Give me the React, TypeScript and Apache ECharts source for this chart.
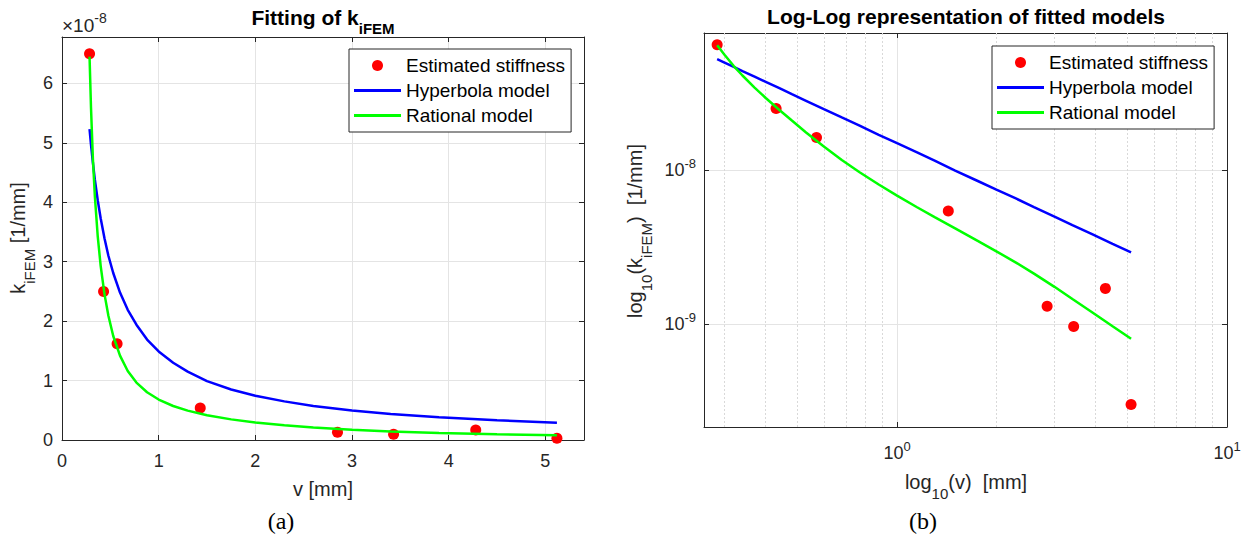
import React, { useEffect, useRef } from "react";
import * as echarts from "echarts";

// ---- data ----
const displacement = [0.285, 0.43, 0.57, 1.43, 2.85, 3.43, 4.28, 5.12]; // v [mm]
const stiffness = [6.5e-8, 2.5e-8, 1.62e-8, 5.4e-9, 1.3e-9, 9.6e-10, 1.7e-9, 3.0e-10]; // k_iFEM [1/mm]

// fitted model curves, sampled off the figure
const fitV = [0.285, 0.3, 0.32, 0.34, 0.37, 0.4, 0.44, 0.48, 0.53, 0.6, 0.68, 0.77, 0.88, 1.0, 1.15, 1.3, 1.5, 1.75, 2.0, 2.3, 2.6, 3.0, 3.4, 3.9, 4.5, 5.12];
const hyperbolaK = [5.23e-8, 4.97e-8, 4.66e-8, 4.38e-8, 4.03e-8, 3.73e-8, 3.39e-8, 3.1e-8, 2.81e-8, 2.48e-8, 2.19e-8, 1.94e-8, 1.69e-8, 1.49e-8, 1.3e-8, 1.15e-8, 9.9e-9, 8.5e-9, 7.45e-9, 6.5e-9, 5.73e-9, 4.97e-9, 4.38e-9, 3.82e-9, 3.31e-9, 2.91e-9];
const rationalK = [6.45e-8, 5.59e-8, 4.72e-8, 4.1e-8, 3.42e-8, 2.93e-8, 2.45e-8, 2.09e-8, 1.75e-8, 1.42e-8, 1.16e-8, 9.66e-9, 8.04e-9, 6.81e-9, 5.72e-9, 4.94e-9, 4.17e-9, 3.47e-9, 2.96e-9, 2.49e-9, 2.12e-9, 1.74e-9, 1.45e-9, 1.19e-9, 9.65e-10, 8.0e-10];

// axis ranges / ticks
const linXMax = 5.4;
const linYMax = 6.78e-8;
const linYStep = 1e-8;
const logXMin = 0.26;
const logXMax = 10;
const logYMin = 2.14e-10;
const logYMax = 7.74e-8;
const minorX = [0.3, 0.4, 0.5, 0.6, 0.7, 0.8, 0.9, 2, 3, 4, 5, 6, 7, 8, 9];
const minorY = [3e-10, 4e-10, 5e-10, 6e-10, 7e-10, 8e-10, 9e-10, 2e-9, 3e-9, 4e-9, 5e-9, 6e-9, 7e-9, 8e-9, 9e-9, 2e-8, 3e-8, 4e-8, 5e-8, 6e-8, 7e-8];

const seriesNames = ["Estimated stiffness", "Hyperbola model", "Rational model"];

const FONT = '"Liberation Sans", Arial, Helvetica, sans-serif';
const SERIF = '"Liberation Serif", "Times New Roman", serif';
const TXT = "#262626";
const GRID = "#e4e4e4";

function pairs(xs: number[], ys: number[]) {
  return xs.map((x, i) => [x, ys[i]]);
}

function baseAxis(extra: any) {
  return {
    axisLine: { show: true, onZero: false, lineStyle: { color: TXT, width: 1 } },
    axisTick: { show: true, inside: true, length: 5, lineStyle: { color: TXT } },
    axisLabel: { show: false },
    splitLine: { show: false },
    ...extra,
  };
}

const tickLabel = { color: TXT, fontSize: 18, fontFamily: FONT };
const powRich = {
  b: { fontSize: 18, fontFamily: FONT, color: TXT, lineHeight: 26 },
  s: { fontSize: 13, fontFamily: FONT, color: TXT, verticalAlign: "top" },
};
const powFormatter = (v: number) => `{b|10}{s|${Math.round(Math.log10(v))}}`;

function subRich(main: number, sub: number, weight = "normal", fill = TXT) {
  return {
    m: { fontSize: main, fontWeight: weight, fontFamily: FONT, fill, lineHeight: 38 },
    s: { fontSize: sub, fontWeight: weight, fontFamily: FONT, fill, verticalAlign: "bottom" },
  };
}

export default function App() {
  const ref = useRef<HTMLDivElement>(null);
  useEffect(() => {
    if (!ref.current) return;
    const chart = echarts.init(ref.current, undefined, { renderer: "svg" });
    const lineCommon = { type: "line", symbol: "none", smooth: false, z: 4 };
    const dots = { type: "scatter", symbolSize: 11, itemStyle: { color: "#ff0000", opacity: 1 }, z: 3 };
    const option: any = {
      animation: false,
      backgroundColor: "#ffffff",
      grid: [
        { left: 62, top: 37, width: 522, height: 403 },
        { left: 704, top: 33, width: 523, height: 394 },
      ],
      xAxis: [
        baseAxis({
          gridIndex: 0, type: "value", min: 0, max: linXMax, interval: 1, position: "bottom",
          axisLabel: { ...tickLabel, margin: 12, showMaxLabel: false },
          splitLine: { show: true, lineStyle: { color: GRID } },
        }),
        baseAxis({ gridIndex: 0, type: "value", min: 0, max: linXMax, interval: 1, position: "top" }),
        baseAxis({
          gridIndex: 1, type: "log", logBase: 10, min: logXMin, max: logXMax, position: "bottom",
          axisLabel: { show: true, formatter: powFormatter, rich: powRich, margin: 13, showMinLabel: false },
          splitLine: { show: true, lineStyle: { color: GRID } },
        }),
        baseAxis({ gridIndex: 1, type: "log", logBase: 10, min: logXMin, max: logXMax, position: "top" }),
      ],
      yAxis: [
        baseAxis({
          gridIndex: 0, type: "value", min: 0, max: linYMax, interval: linYStep, position: "left",
          axisLabel: { ...tickLabel, margin: 9, showMaxLabel: false, formatter: (v: number) => String(Math.round(v / linYStep)) },
          splitLine: { show: true, lineStyle: { color: GRID } },
        }),
        baseAxis({ gridIndex: 0, type: "value", min: 0, max: linYMax, interval: linYStep, position: "right" }),
        baseAxis({
          gridIndex: 1, type: "log", logBase: 10, min: logYMin, max: logYMax, position: "left",
          axisLabel: { show: true, formatter: powFormatter, rich: powRich, margin: 8, showMinLabel: false, showMaxLabel: false },
          splitLine: { show: true, lineStyle: { color: GRID } },
        }),
        baseAxis({ gridIndex: 1, type: "log", logBase: 10, min: logYMin, max: logYMax, position: "right" }),
      ],
      legend: [0, 1].map((i) => ({
        left: i === 0 ? 349 : 992,
        top: i === 0 ? 49 : 46,
        z: 20,
        orient: "vertical",
        data: [
          { name: seriesNames[0], icon: "circle" },
          { name: seriesNames[1], icon: "path://M0,0H47V3H0Z" },
          { name: seriesNames[2], icon: "path://M0,0H47V3H0Z" },
        ],
        itemWidth: 47,
        itemHeight: 11,
        itemGap: 6,
        padding: [7, 6, 7, 5],
        borderColor: TXT,
        borderWidth: 1,
        borderRadius: 0,
        backgroundColor: "#ffffff",
        selectedMode: false,
        textStyle: { fontSize: 19, fontFamily: FONT, color: "#000" },
      })),
      series: [
        {
          type: "line", xAxisIndex: 2, yAxisIndex: 2, data: [[1, 1e-9]], symbol: "none", silent: true, z: 1,
          lineStyle: { opacity: 0 },
          markLine: {
            silent: true, z: 1, symbol: ["none", "none"], label: { show: false },
            lineStyle: { type: [2, 2], color: "#d9d9d9", width: 1 },
            data: [...minorX.map((x) => ({ xAxis: x })), ...minorY.map((y) => ({ yAxis: y }))],
          },
        },
        { ...dots, name: seriesNames[0], xAxisIndex: 0, yAxisIndex: 0, data: pairs(displacement, stiffness) },
        { ...lineCommon, name: seriesNames[1], xAxisIndex: 0, yAxisIndex: 0, data: pairs(fitV, hyperbolaK), itemStyle: { color: "#0000ff" }, lineStyle: { width: 2.5, color: "#0000ff" } },
        { ...lineCommon, name: seriesNames[2], xAxisIndex: 0, yAxisIndex: 0, data: pairs(fitV, rationalK), itemStyle: { color: "#00ff00" }, lineStyle: { width: 2.5, color: "#00ff00" } },
        { ...dots, name: seriesNames[0], xAxisIndex: 2, yAxisIndex: 2, data: pairs(displacement, stiffness) },
        { ...lineCommon, name: seriesNames[1], xAxisIndex: 2, yAxisIndex: 2, data: pairs(fitV, hyperbolaK), itemStyle: { color: "#0000ff" }, lineStyle: { width: 2.5, color: "#0000ff" } },
        { ...lineCommon, name: seriesNames[2], xAxisIndex: 2, yAxisIndex: 2, data: pairs(fitV, rationalK), itemStyle: { color: "#00ff00" }, lineStyle: { width: 2.5, color: "#00ff00" } },
      ],
      graphic: [
        {
          type: "text", x: 323, y: 17,
          style: { text: "{m|Fitting of k}{s|iFEM}", align: "center", verticalAlign: "middle", rich: subRich(21, 15, "bold", "#000") },
        },
        {
          type: "text", x: 966, y: 16,
          style: { text: "Log-Log representation of fitted models", align: "center", verticalAlign: "middle", fontSize: 21, fontWeight: "bold", fontFamily: FONT, fill: "#000" },
        },
        {
          type: "text", x: 62, y: 25,
          style: {
            text: "{b|\u00d710}{s|-8}", align: "left", verticalAlign: "middle",
            rich: {
              b: { fontSize: 19, fontFamily: FONT, fill: TXT, lineHeight: 28 },
              s: { fontSize: 14, fontFamily: FONT, fill: TXT, verticalAlign: "top" },
            },
          },
        },
        {
          type: "text", x: 18, y: 238, rotation: Math.PI / 2,
          style: { text: "{m|k}{s|iFEM}{m|\u00a0[1/mm]}", align: "center", verticalAlign: "middle", rich: subRich(20, 15) },
        },
        {
          type: "text", x: 323, y: 489,
          style: { text: "v [mm]", align: "center", verticalAlign: "middle", fontSize: 20, fontFamily: FONT, fill: TXT },
        },
        {
          type: "text", x: 635, y: 231, rotation: Math.PI / 2,
          style: { text: "{m|log}{s|10}{m|(k}{s|iFEM}{m|)\u00a0\u00a0[1/mm]}", align: "center", verticalAlign: "middle", rich: subRich(20, 15) },
        },
        {
          type: "text", x: 966, y: 482,
          style: { text: "{m|log}{s|10}{m|(v)\u00a0\u00a0[mm]}", align: "center", verticalAlign: "middle", rich: subRich(20, 15) },
        },
        {
          type: "text", x: 281, y: 521,
          style: { text: "(a)", align: "center", verticalAlign: "middle", fontSize: 24, fontFamily: SERIF, fill: "#000" },
        },
        {
          type: "text", x: 923, y: 521,
          style: { text: "(b)", align: "center", verticalAlign: "middle", fontSize: 24, fontFamily: SERIF, fill: "#000" },
        },
      ],
    };
    chart.setOption(option);
    return () => chart.dispose();
  }, []);
  return <div ref={ref} style={{ position: "fixed", left: 0, top: 0, width: 1251, height: 540, background: "#fff" }} />;
}
